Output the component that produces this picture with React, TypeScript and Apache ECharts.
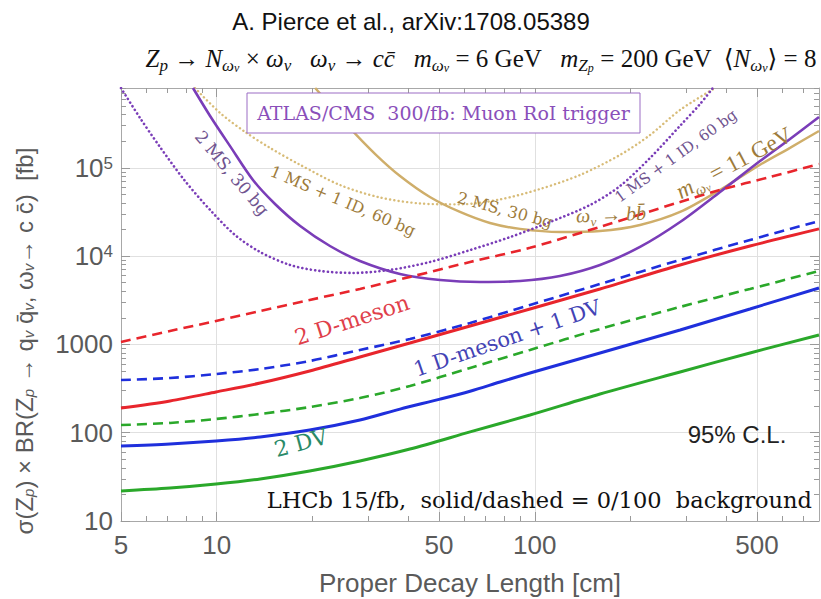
import React, { useEffect, useRef } from "react";
import * as echarts from "echarts";

// ---------- axis ranges & ticks ----------
const X_MIN = 5;
const X_MAX = 783;
const Y_MIN = 10;
const Y_MAX = 8e5;
const X_MAJOR = [5, 10, 50, 100, 500];
const X_MINOR = [6, 7, 8, 9, 20, 30, 40, 60, 70, 80, 90, 200, 300, 400, 600, 700];
const Y_MAJOR = [10, 100, 1000, 1e4, 1e5];
const Y_MINOR = [
  20, 30, 40, 50, 60, 70, 80, 90,
  200, 300, 400, 500, 600, 700, 800, 900,
  2000, 3000, 4000, 5000, 6000, 7000, 8000, 9000,
  2e4, 3e4, 4e4, 5e4, 6e4, 7e4, 8e4, 9e4,
  2e5, 3e5, 4e5, 5e5, 6e5, 7e5, 8e5,
];

// ---------- LHCb curves (proper decay length in cm, sigma x BR in fb) ----------
const LHCB_X = [5, 7.13, 9.95, 13.7, 19.6, 28.2, 40.5, 62.6, 96.6, 160.4, 286.4, 475, 783];
const DMESON2_0BG = [190, 229, 289, 365, 500, 720, 1038, 1616, 2518, 4240, 7930, 13000, 20300];
const DMDV_100BG = [395, 416, 462, 526, 648, 865, 1151, 1747, 2793, 4831, 9040, 15200, 24900];
const DV2_100BG = [122, 129, 143, 163, 195, 247, 338, 541, 865, 1494, 2654, 4240, 6780];
const DV2_0BG = [21.9, 23.6, 26.2, 29.9, 36.8, 47.9, 65.3, 102, 158.5, 274, 487, 800, 1277];
const DMESON2_100BG_X = [5, 7.13, 9.95, 13.7, 19.6, 28.2, 40.5, 62.6, 96.6, 160.4, 286.4, 382.4, 549.5, 783];
const DMESON2_100BG = [1065, 1418, 1841, 2390, 3184, 4240, 5800, 8570, 12400, 21400, 41000, 56100, 78700, 110000];
const DMDV_0BG_X = [5, 7.13, 9.95, 13.7, 19.6, 28.2, 37.7, 50.4, 62.6, 77.8, 96.6, 160.4, 286.4, 475, 783];
const DMDV_0BG = [70.7, 74.5, 80.5, 89.3, 107, 139, 185, 240, 295, 375, 474, 800, 1456, 2518, 4355];

// ---------- ATLAS/CMS curves ----------
const P_2MS_X = [8.42, 9.53, 11.0, 13.0, 15.25, 18.3, 22.7, 28.2, 37.7, 50.4, 67.3, 89.9, 120, 160.4, 214.3, 286.4, 382.4, 511, 634.8, 783];
const P_2MS_Y = [8e5, 3.86e5, 1.77e5, 7.27e4, 3.89e4, 2.19e4, 1.3e4, 8800, 6270, 5360, 5090, 5220, 5950, 7930, 1.27e4, 2.43e4, 5.32e4, 1.19e5, 2.12e5, 3.76e5];
const P_1MS_X = [5, 5.74, 6.63, 7.95, 9.53, 11.42, 13.7, 17.0, 21.1, 26.8, 35.1, 46.8, 62.6, 83.6, 111.7, 149.2, 185.5, 230.4, 286.4, 331, 363];
const P_1MS_Y = [8e5, 3.66e5, 1.72e5, 7.09e4, 3.33e4, 1.73e4, 1.11e4, 7930, 6780, 6440, 6970, 8570, 1.17e4, 1.64e4, 2.43e4, 3.79e4, 6.22e4, 1.29e5, 2.99e5, 5.27e5, 8e5];
const G_2MS_X = [20.4, 22.7, 26.2, 31.5, 37.7, 46.8, 58.2, 72.3, 89.9, 120, 160.4, 214.3, 286.4, 382.4, 511, 634.8, 783];
const G_2MS_Y = [8e5, 5.14e5, 2.83e5, 1.43e5, 8.07e4, 4.67e4, 3.16e4, 2.37e4, 2.03e4, 1.87e4, 1.92e4, 2.25e4, 3.16e4, 5.61e4, 1.08e5, 1.68e5, 2.61e5];
const G_1MS_X = [8.54, 10.24, 12.27, 14.7, 18.28, 24.4, 32.6, 43.6, 58.2, 77.8, 103.9, 138.8, 185.5, 230.4, 286.4, 369];
const G_1MS_Y = [8e5, 4.18e5, 2.55e5, 1.68e5, 1.08e5, 6.38e4, 4.61e4, 3.94e4, 3.85e4, 4.38e4, 5.75e4, 8.28e4, 1.4e5, 2.35e5, 4.52e5, 8e5];

// ---------- styles ----------
const RED = "#e8252c";
const BLUE = "#1f2fdc";
const GREEN = "#2aa82a";
const PURPLE = "#7a3db8";
const GOLD = "#cfae6a";
const SANS = "'Liberation Sans', Arial, Helvetica, sans-serif";
const SERIF = "'DejaVu Serif', 'Liberation Serif', serif";
const MATH = "'Liberation Serif', 'DejaVu Serif', serif";

const L = Math.log10;
const pairs = (xs: number[], ys: number[]) => xs.map((x, i) => [L(x), L(ys[i])]);

const DASH = [10, 6];
const DOT = [0.1, 4.2];

function mkLine(name: string, xs: number[], ys: number[], color: string, width: number, type: any, z: number, cap = "butt") {
  return {
    type: "line",
    name,
    data: pairs(xs, ys),
    xAxisIndex: 0,
    yAxisIndex: 0,
    showSymbol: false,
    symbol: "none",
    smooth: 0.3,
    silent: true,
    z,
    lineStyle: { color, width, type, cap },
  };
}

function xAxis(position: string, values: number[], len: number, main: boolean, grid: boolean) {
  return {
    type: "value",
    min: L(X_MIN),
    max: L(X_MAX),
    position,
    axisLine: { show: main, onZero: false, lineStyle: { color: "#a8a8a8", width: 1 } },
    axisTick: { show: main || !grid, inside: true, length: len, customValues: values.map(L), lineStyle: { color: "#9a9a9a" } },
    axisLabel: position === "bottom" && main
      ? {
          show: true,
          customValues: values.map(L),
          formatter: (v: number) => String(Math.round(Math.pow(10, v))),
          fontSize: 26,
          color: "#5a5a5a",
          fontFamily: SANS,
          margin: 11,
        }
      : { show: false },
    splitLine: { show: grid, lineStyle: { color: "#e0e0e0", width: 1 } },
  };
}

function yAxis(position: string, values: number[], len: number, main: boolean, grid: boolean) {
  return {
    type: "value",
    min: L(Y_MIN),
    max: L(Y_MAX),
    position,
    axisLine: { show: main, onZero: false, lineStyle: { color: "#a8a8a8", width: 1 } },
    axisTick: { show: main || !grid, inside: true, length: len, customValues: values.map(L), lineStyle: { color: "#9a9a9a" } },
    axisLabel: position === "left" && main
      ? {
          show: true,
          customValues: values.map(L),
          formatter: (v: number) => {
            const e = Math.round(v);
            if (e <= 3) return String(Math.round(Math.pow(10, e)));
            return "10{sup|" + e + "}";
          },
          fontSize: 26,
          color: "#5a5a5a",
          fontFamily: SANS,
          margin: 8,
          rich: { sup: { fontSize: 17, color: "#5a5a5a", fontFamily: SANS, verticalAlign: "top", lineHeight: 16 } },
        }
      : { show: false },
    splitLine: { show: grid, lineStyle: { color: "#e0e0e0", width: 1 } },
  };
}

function mathRich(size: number, color: string) {
  return {
    n: { fontSize: size, fontFamily: MATH, fill: color, lineHeight: size + 7, verticalAlign: "middle" },
    i: { fontSize: size, fontFamily: MATH, fontStyle: "italic", fill: color, lineHeight: size + 7, verticalAlign: "middle" },
    s: { fontSize: Math.round(size * 0.66), fontFamily: MATH, fontStyle: "italic", fill: color, lineHeight: Math.round(size * 0.66), verticalAlign: "bottom" },
    ss: { fontSize: Math.round(size * 0.48), fontFamily: MATH, fontStyle: "italic", fill: color, lineHeight: Math.round(size * 0.42), verticalAlign: "bottom" },
  };
}

function serifLabel(text: string, x: number, y: number, deg: number, color: string, size: number, extra: any = {}) {
  return {
    type: "text",
    x,
    y,
    rotation: (deg * Math.PI) / 180,
    silent: true,
    z: 20,
    style: { text, fontSize: size, fontFamily: SERIF, fill: color, align: "center", verticalAlign: "middle", ...extra },
  };
}

export default function App() {
  const ref = useRef<HTMLDivElement>(null);
  useEffect(() => {
    document.body.style.margin = "0";
    const chart = echarts.init(ref.current!, null, { renderer: "svg" });
    const goldTxt = "#9d7b3b";
    const purTxt = "#70548f";
    const option: any = {
      animation: false,
      backgroundColor: "#ffffff",
      grid: { left: 121, top: 88, width: 698, height: 433, containLabel: false },
      xAxis: [
        xAxis("bottom", X_MAJOR, 9, true, false),
        xAxis("bottom", X_MINOR, 5, false, false),
        xAxis("top", X_MAJOR, 9, true, false),
        xAxis("top", X_MINOR, 5, false, false),
        xAxis("bottom", X_MAJOR.slice(1), 0, false, true),
      ],
      yAxis: [
        yAxis("left", Y_MAJOR, 9, true, false),
        yAxis("left", Y_MINOR, 5, false, false),
        yAxis("right", Y_MAJOR, 9, true, false),
        yAxis("right", Y_MINOR, 5, false, false),
        yAxis("left", Y_MAJOR.slice(1), 0, false, true),
      ],
      series: [
        mkLine("1 MS + 1 ID, 60 bg (11 GeV)", G_1MS_X, G_1MS_Y, "#d8bc78", 2.4, DOT, 2, "round"),
        mkLine("2 MS, 30 bg (11 GeV)", G_2MS_X, G_2MS_Y, GOLD, 2.4, "solid", 3),
        mkLine("1 MS + 1 ID, 60 bg (6 GeV)", P_1MS_X, P_1MS_Y, PURPLE, 2.6, DOT, 4, "round"),
        mkLine("2 MS, 30 bg (6 GeV)", P_2MS_X, P_2MS_Y, PURPLE, 2.6, "solid", 5),
        mkLine("2 D-meson, 100 bg", DMESON2_100BG_X, DMESON2_100BG, RED, 2.6, DASH, 6),
        mkLine("1 D-meson + 1 DV, 100 bg", LHCB_X, DMDV_100BG, BLUE, 2.6, DASH, 6),
        mkLine("2 DV, 100 bg", LHCB_X, DV2_100BG, GREEN, 2.6, DASH, 6),
        mkLine("2 D-meson, 0 bg", LHCB_X, DMESON2_0BG, RED, 3, "solid", 7),
        mkLine("1 D-meson + 1 DV, 0 bg", DMDV_0BG_X, DMDV_0BG, BLUE, 3, "solid", 7),
        mkLine("2 DV, 0 bg", LHCB_X, DV2_0BG, GREEN, 3, "solid", 7),
      ],
      graphic: [
        {
          type: "text",
          x: 411,
          y: 21,
          silent: true,
          style: { text: "A. Pierce et al., arXiv:1708.05389", fontSize: 24, fontFamily: SANS, fill: "#111", align: "center", verticalAlign: "middle" },
        },
        {
          type: "text",
          x: 481,
          y: 58,
          silent: true,
          style: {
            text:
              "{i|Z}{s|p}{n| → }{i|N}{s|ω}{ss|v}{n| × }{i|ω}{s|v}{n|   }{i|ω}{s|v}{n| → }{i|cc̄}{n|   }{i|m}{s|ω}{ss|v}{n| = 6 GeV   }{i|m}{s|Z}{ss|p}{n| = 200 GeV  ⟨}{i|N}{s|ω}{ss|v}{n|⟩ = 8}",
            align: "center",
            verticalAlign: "middle",
            rich: mathRich(25, "#111"),
          },
        },
        {
          type: "text",
          x: 24,
          y: 341,
          rotation: Math.PI / 2,
          silent: true,
          style: {
            text: "σ(Z{s|p}) × BR(Z{s|p} → q{s|v} q̄{s|v}, ω{s|v}→ c c̄)  [fb]",
            fontSize: 24,
            fontFamily: SANS,
            fill: "#5a5a5a",
            align: "center",
            verticalAlign: "middle",
            rich: {
              s: { fontSize: 15, fontFamily: SANS, fontStyle: "italic", fill: "#5a5a5a", lineHeight: 12, verticalAlign: "bottom" },
            },
          },
        },
        {
          type: "text",
          x: 470,
          y: 583,
          silent: true,
          style: { text: "Proper Decay Length [cm]", fontSize: 26, fontFamily: SANS, fill: "#5a5a5a", align: "center", verticalAlign: "middle" },
        },
        {
          type: "rect",
          silent: true,
          z: 20,
          shape: { x: 247, y: 93, width: 393, height: 40 },
          style: { fill: "#ffffff", stroke: "#9b6cc4", lineWidth: 1 },
        },
        serifLabel("ATLAS/CMS  300/fb: Muon RoI trigger", 443.5, 113, 0, "#8a4fba", 19),
        serifLabel("2 MS, 30 bg", 232, 173, -50, purTxt, 17),
        serifLabel("1 MS + 1 ID, 60 bg", 343, 201, -23, goldTxt, 16),
        serifLabel("2 MS, 30 bg", 505, 210, -15, goldTxt, 16),
        {
          type: "text",
          x: 611,
          y: 214,
          rotation: 0.04,
          silent: true,
          z: 20,
          style: {
            text: "{i|ω}{s|v}{n| → }{i|bb̄}",
            align: "center",
            verticalAlign: "middle",
            rich: mathRich(20, goldTxt),
          },
        },
        {
          type: "text",
          x: 734,
          y: 163,
          rotation: (28 * Math.PI) / 180,
          silent: true,
          z: 20,
          style: {
            text: "{i|m}{s|ω}{ss|v}{n| = 11 GeV}",
            align: "center",
            verticalAlign: "middle",
            rich: mathRich(23, goldTxt),
          },
        },
        serifLabel("1 MS + 1 ID, 60 bg", 676, 156, 36, purTxt, 15),
        serifLabel("2 D-meson", 352, 320, 18, "#e0404a", 22),
        serifLabel("1 D-meson + 1 DV", 507, 338, 19, "#4343b5", 21),
        serifLabel("2 DV", 301, 443, 15, "#2a8a68", 22),
        {
          type: "text",
          x: 737,
          y: 434,
          silent: true,
          z: 20,
          style: { text: "95% C.L.", fontSize: 24, fontFamily: SANS, fill: "#222", align: "center", verticalAlign: "middle" },
        },
        {
          type: "text",
          x: 812,
          y: 500,
          silent: true,
          z: 20,
          style: { text: "LHCb 15/fb,  solid/dashed = 0/100  background", fontSize: 22.5, fontFamily: SERIF, fill: "#111", align: "right", verticalAlign: "middle" },
        },
      ],
    };
    chart.setOption(option);
    return () => chart.dispose();
  }, []);
  return <div ref={ref} style={{ width: 821, height: 599 }} />;
}
